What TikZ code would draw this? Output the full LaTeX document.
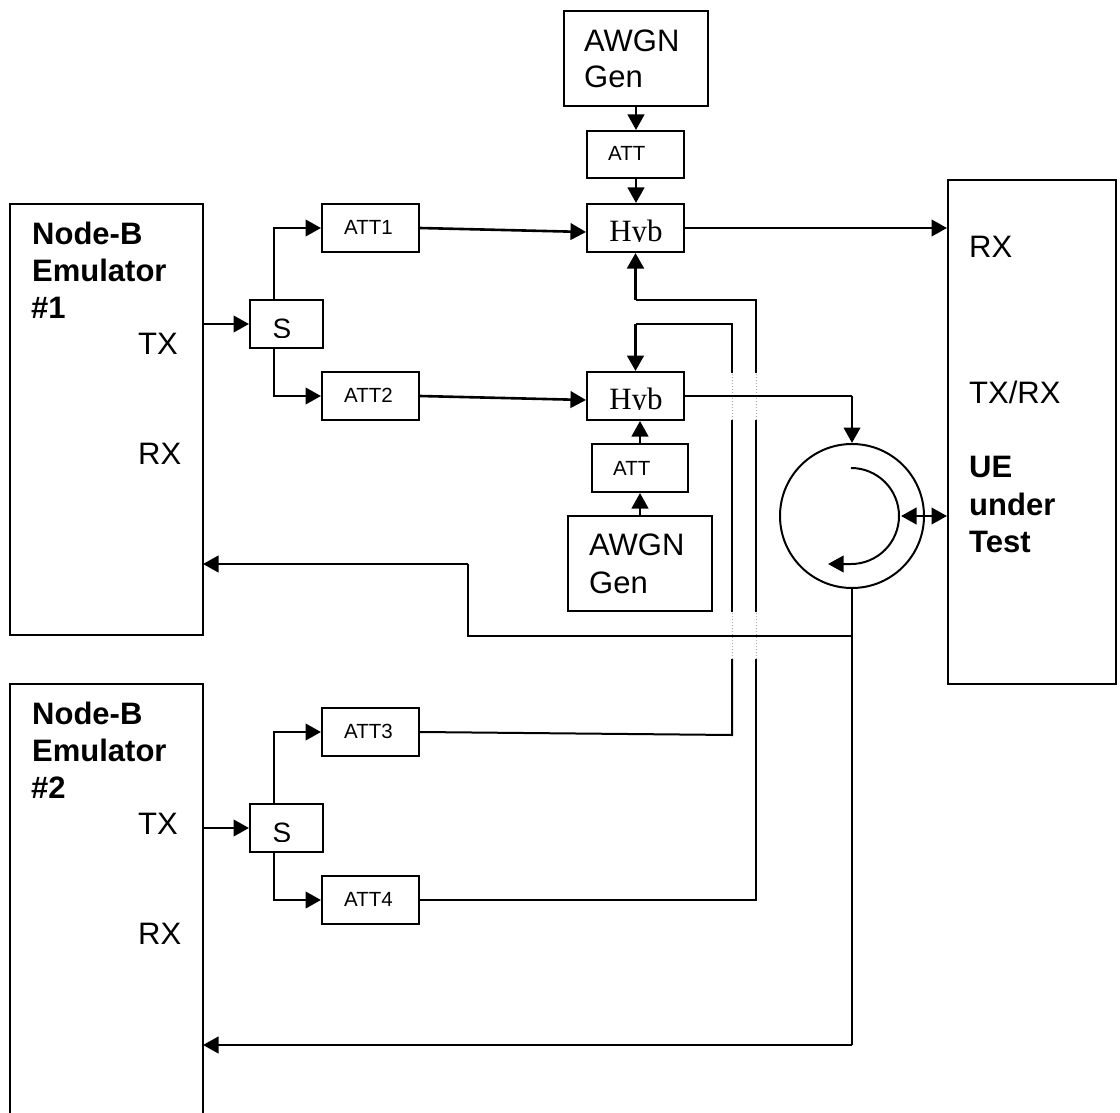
\documentclass[tikz,border=0pt]{standalone}
\usepackage{fontspec}
\setmainfont{Liberation Sans}
\newfontfamily\hybfont{Liberation Serif}
\usetikzlibrary{arrows.meta,calc}
\tikzset{
  box/.style={draw,line width=2pt,inner sep=0pt},
  small/.style={inner sep=0pt,anchor=base west,font=\fontsize{20.5}{24}\selectfont},
  big/.style={inner sep=0pt,anchor=base west,font=\fontsize{31}{37}\selectfont},
  bold/.style={inner sep=0pt,anchor=base west,font=\fontsize{31}{37}\selectfont\bfseries},
  tip/.style={-{Triangle[length=15.5pt,width=16.5pt]}},
  wire/.style={line width=2pt},
  thick wire/.style={line width=2.6pt},
  heavy wire/.style={line width=3.2pt},
  arr/.style={thick wire,tip},
  harr/.style={heavy wire,tip},
  gap/.style={line width=1pt,gray!70,dotted,line cap=butt}
}
\newcommand{\bx}[5]{\node[box,minimum width=#3 pt-#2 pt,minimum height=#5 pt-#4 pt] (#1) at ({(#2+#3)/2},{(#4+#5)/2}) {};}
\begin{document}
\begin{tikzpicture}[x=1pt,y=-1pt]
\useasboundingbox[fill=white] (0,0) rectangle (1120,1113);
% boxes
\bx{awgnA}{564}{708}{11}{106}
\bx{attA}{587}{684}{131}{178}
\bx{hybA}{587}{684}{204}{252}
\bx{hybB}{587}{684}{372}{420}
\bx{attB}{592}{688}{444}{492}
\bx{awgnB}{568}{712}{516}{611}
\bx{attOne}{322}{419}{204}{252}
\bx{attTwo}{322}{419}{372}{420}
\bx{attThree}{322}{419}{708}{756}
\bx{attFour}{322}{419}{876}{924}
\bx{sA}{250}{323}{300}{348}
\bx{sB}{250}{323}{804}{852}
\bx{nbA}{10}{203}{204}{635}
\bx{ue}{948}{1116}{180}{684}
% open-bottomed box
\coordinate (nbBbl) at (10,1113);
\coordinate (nbBbr) at (203,1113);
\coordinate (nbBtl) at (10,684);
\coordinate (nbBtr) at (203,684);
\draw[line width=2pt] (nbBbl) -- (nbBtl) -- (nbBtr) -- (nbBbr);
% circulator
\node[draw,circle,line width=2pt,minimum size=144pt,inner sep=0pt] (circ) at (852,516) {};
\coordinate (arcS) at (851,468);
\draw[line width=2pt,tip] (arcS) arc[start angle=-90,end angle=90,radius=48] -- +(-23,0);
% labels in boxes
\node[small] (lblOne) at (344,234) {ATT1};
\node[small] (lblTwo) at (344,402) {ATT2};
\node[small] (lblThree) at (344,738) {ATT3};
\node[small] (lblFour) at (344,906) {ATT4};
\node[small] (lblA) at (608,161) {ATT};
\node[small] (lblB) at (613,475) {ATT};
\node[big] (gA) at (584,52) {AWGN};
\node[big] (gAb) at (584,88) {Gen};
\node[big] (gB) at (589,555) {AWGN};
\node[big] (gBb) at (589,593) {Gen};
\begin{scope}
\clip (587,204) rectangle (684,241.7);
\node[inner sep=0pt,anchor=base,font=\fontsize{31}{36}\selectfont\hybfont] (hA) at (636,241.5) {Hyb};
\end{scope}
\begin{scope}
\clip (587,372) rectangle (684,409.7);
\node[inner sep=0pt,anchor=base,font=\fontsize{31}{36}\selectfont\hybfont] (hB) at (636,409.5) {Hyb};
\end{scope}
\begin{scope}
\clip (250,300) rectangle (323,337.7);
\node[inner sep=0pt,anchor=base,font=\fontsize{28}{32}\selectfont] (sLA) at (282,338.5) {S};
\end{scope}
\begin{scope}
\clip (250,804) rectangle (323,841.7);
\node[inner sep=0pt,anchor=base,font=\fontsize{28}{32}\selectfont] (sLB) at (282,842.5) {S};
\end{scope}
\node[bold] (nA) at (32,244) {Node-B};
\node[bold] (nAb) at (32,281) {Emulator};
\node[bold] (nAc) at (31,318) {\#1};
\node[bold] (nB) at (32,724) {Node-B};
\node[bold] (nBb) at (32,761) {Emulator};
\node[bold] (nBc) at (31,798) {\#2};
\node[big] (txA) at (138,354) {TX};
\node[big] (rxA) at (138,464) {RX};
\node[big] (txB) at (138,834) {TX};
\node[big] (rxB) at (138,944) {RX};
\node[big] (rxU) at (969,257) {RX};
\node[big] (trU) at (969,403) {TX/RX};
\node[bold] (uLbl) at (969,477) {UE};
\node[bold] (uLblb) at (969,515) {under};
\node[bold] (uLblc) at (969,552) {Test};
% connectors
\draw[arr] (awgnA.south -| 636,0) -- (attA.north -| 636,0);
\draw[arr] (attA.south -| 636,0) -- (hybA.north -| 636,0);
\draw[arr] (attB.north -| 640,0) -- (hybB.south -| 640,0);
\draw[arr] (awgnB.north -| 640,0) -- (attB.south -| 640,0);
\draw[arr] ($(nbA.east)+(0,-95.5)$) -- (sA.west);
\draw[arr] (nbBtr |- sB.west) -- (sB.west);
\draw[arr] (sA.north -| 274,0) |- (attOne.west);
\draw[arr] (sA.south -| 274,0) |- (attTwo.west);
\draw[arr] (sB.north -| 274,0) |- (attThree.west);
\draw[arr] (sB.south -| 274,0) |- (attFour.west);
\draw[arr] (attOne.east) -- ($(hybA.west)+(0,4)$);
\draw[arr] (attTwo.east) -- ($(hybB.west)+(0,4)$);
\draw[arr] (hybA.east) -- (hybA.east -| ue.west);
\coordinate (upA) at (756,300);
\coordinate (upB) at (732,324);
\coordinate (g1t) at (0,372.5);
\coordinate (g1b) at (0,420);
\coordinate (g2t) at (0,612);
\coordinate (g2b) at (0,659);
% ATT4 to upper hybrid
\draw[wire] (attFour.east) -| (upA |- g2b);
\draw[gap] (upA |- g2b) -- (upA |- g2t);
\draw[wire] (upA |- g2t) -- (upA |- g1b);
\draw[gap] (upA |- g1b) -- (upA |- g1t);
\draw[wire] (upA |- g1t) -- (upA) -- (hybA.south |- upA);
\draw[harr] (hybA.south |- upA) -- (hybA.south);
% ATT3 to lower hybrid
\coordinate (a3e) at (732,735);
\draw[wire] (attThree.east) -- (a3e) -- (upB |- g2b);
\draw[gap] (upB |- g2b) -- (upB |- g2t);
\draw[wire] (upB |- g2t) -- (upB |- g1b);
\draw[gap] (upB |- g1b) -- (upB |- g1t);
\draw[wire] (upB |- g1t) -- (upB) -- (hybB.north |- upB);
\draw[harr] (hybB.north |- upB) -- (hybB.north);
% lower hybrid to circulator
\coordinate (hc) at (852,396);
\draw[wire] (hybB.east) -- (hc);
\draw[arr] (hc) -- (circ.north);
% circulator to UE
\coordinate (inner) at (901,516);
\draw[thick wire,{Triangle[length=15.5pt,width=16.5pt]}-{Triangle[length=15.5pt,width=16.5pt]}] (inner) -- (ue.west |- inner);
% return paths
\coordinate (junc) at (852,636);
\coordinate (rtA) at (468,636);
\coordinate (rtB) at (468,564);
\coordinate (nbAr) at (203,564);
\coordinate (rtC) at (852,1045);
\coordinate (nbBr) at (203,1045);
\draw[wire] (circ.south) -- (junc) -- (rtA) -- (rtB);
\draw[arr] (rtB) -- (nbAr);
\draw[wire] (junc) -- (rtC);
\draw[arr] (rtC) -- (nbBr);
\end{tikzpicture}
\end{document}
